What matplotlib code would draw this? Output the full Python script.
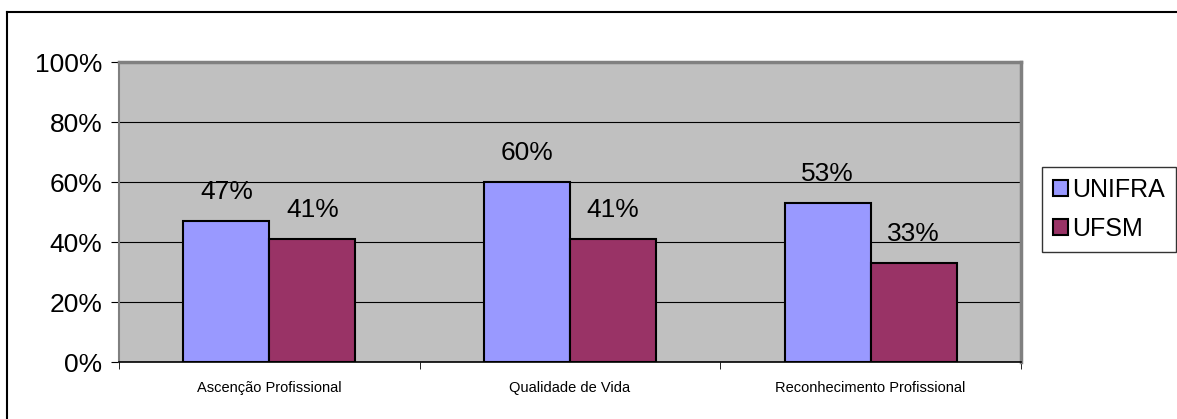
import matplotlib
matplotlib.use("Agg")
import matplotlib.pyplot as plt
from matplotlib.patches import Patch
from matplotlib.lines import Line2D
import numpy as np

plt.rcParams['font.family'] = ['Liberation Sans', 'DejaVu Sans']

categories = ["Ascenção Profissional", "Qualidade de Vida", "Reconhecimento Profissional"]
series_names = ["UNIFRA", "UFSM"]
unifra = [47, 60, 53]
ufsm = [41, 41, 33]
colors = ["#9999FF", "#993366"]
yticks = [0, 20, 40, 60, 80, 100]

fig = plt.figure(figsize=(11.77, 4.19), dpi=100)
ax = fig.add_axes([119/1177, 1 - 362/419, 902/1177, 300/419])
ax.set_facecolor("#C0C0C0")

x = np.arange(len(categories))
w = 1/3.5
for vals, off, c in [(unifra, -w/2, colors[0]), (ufsm, w/2, colors[1])]:
    bars = ax.bar(x + off, vals, width=w, color=c, edgecolor="black", linewidth=1.5, zorder=3)
    for b, v in zip(bars, vals):
        ax.annotate(f"{v}%", (b.get_x() + b.get_width()/2, v), xytext=(0, 16),
                    textcoords="offset points", ha="center", va="baseline", fontsize=19)

ax.set_xlim(-0.5, len(categories) - 0.5)
ax.set_ylim(0, 100)
ax.set_yticks(yticks)
ax.set_yticklabels([f"{t}%" for t in yticks], fontsize=19)
ax.yaxis.grid(True, color="black", linewidth=0.8, zorder=0)
ax.set_axisbelow(True)
ax.set_xticks(x)
ax.set_xticklabels(categories, fontsize=10.5)
ax.tick_params(axis='x', length=0, pad=14)
ax.set_xticks(np.arange(len(categories) + 1) - 0.5, minor=True)
ax.tick_params(axis='x', which='minor', length=5, color="black")
ax.tick_params(axis='y', length=6, color="black", pad=6)
for s in ["top", "right"]:
    ax.spines[s].set_color("#808080")
    ax.spines[s].set_linewidth(2.5)
ax.spines["left"].set_color("#808080")
ax.spines["left"].set_linewidth(1.5)
ax.spines["bottom"].set_color("black")
ax.spines["bottom"].set_linewidth(1.2)

handles = [Patch(facecolor=c, edgecolor="black", linewidth=1.5) for c in colors]
leg = fig.legend(handles, series_names, loc="upper left", bbox_to_anchor=(1042/1177, 1 - 167/419),
                 fontsize=18, frameon=True, fancybox=False, edgecolor="black",
                 handlelength=0.6, handleheight=0.6, handletextpad=0.15, borderpad=0.45,
                 labelspacing=0.6, borderaxespad=0)
leg.get_frame().set_linewidth(1.0)

# outer chart border
fig.add_artist(Line2D([7/1177, 7/1177], [0, 1 - 12/419], transform=fig.transFigure, color="black", linewidth=1.5))
fig.add_artist(Line2D([7/1177, 1176/1177], [1 - 12/419, 1 - 12/419], transform=fig.transFigure, color="black", linewidth=1.5))

fig.savefig("out.png", dpi=100)
